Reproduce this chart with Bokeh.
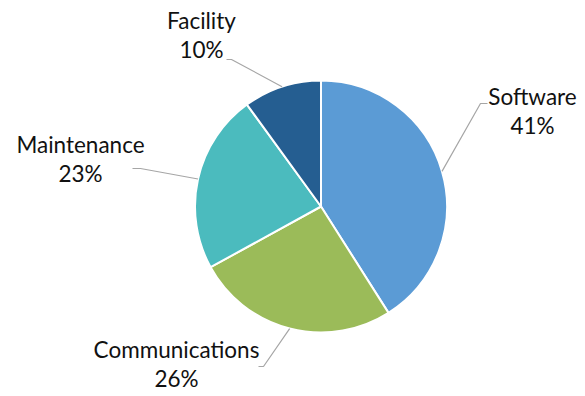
import math
from bokeh.plotting import figure
from bokeh.models import Range1d, ColumnDataSource
from bokeh.core.properties import value
from bokeh.embed import file_html
from bokeh.resources import INLINE

# ---- data ----
categories = ["Software", "Communications", "Maintenance", "Facility"]
shares = [41, 26, 23, 10]
colors = ["#5B9BD5", "#9BBB59", "#4BBBBE", "#255E91"]

# ---- layout (figure pixel coordinates, y up) ----
W, H = 585, 396
CX, CY, R = 320.5, 190.0, 126.0
label_x = [532, 176, 80, 201]
label_y = [300, 47, 252, 376]          # first line
line_gap = 29
elbow = [(480, 293), (263, 30), (140, 228), (231, 337)]
tail = [(487, 293), (258, 30), (132, 228), (226, 337)]

total = float(sum(shares))
starts, ends, mids = [], [], []
a = math.pi / 2
for v in shares:
    sweep = 2 * math.pi * v / total
    starts.append(a - sweep)
    ends.append(a)
    mids.append(a - sweep / 2)
    a -= sweep

p = figure(width=W, height=H, output_backend="svg", toolbar_location=None,
           x_range=Range1d(0, W), y_range=Range1d(0, H), min_border=0)
p.axis.visible = False
p.grid.visible = False
p.outline_line_color = None
p.background_fill_color = "white"

src = ColumnDataSource(dict(start=starts, end=ends, color=colors, cat=categories))
p.wedge(x=CX, y=CY, radius=R, start_angle="start", end_angle="end",
        fill_color="color", line_color="white", line_width=2, source=src)

# leader lines
for m, e, t in zip(mids, elbow, tail):
    ex, ey = CX + R * math.cos(m), CY + R * math.sin(m)
    p.line([ex, e[0], t[0]], [ey, e[1], t[1]], line_color="#A6A6A6", line_width=1.2)

# labels
pct_y = [y - line_gap for y in label_y]
pct = [f"{v}%" for v in shares]
p.text(x=label_x, y=label_y, text=categories, text_align="center",
       text_baseline="alphabetic", text_font=value("Lato"),
       text_font_size="22.5px", text_color="#111111")
p.text(x=label_x, y=pct_y, text=pct, text_align="center",
       text_baseline="alphabetic", text_font=value("Lato"),
       text_font_size="22.5px", text_color="#111111")

open("out.html", "w").write(file_html(p, INLINE))
